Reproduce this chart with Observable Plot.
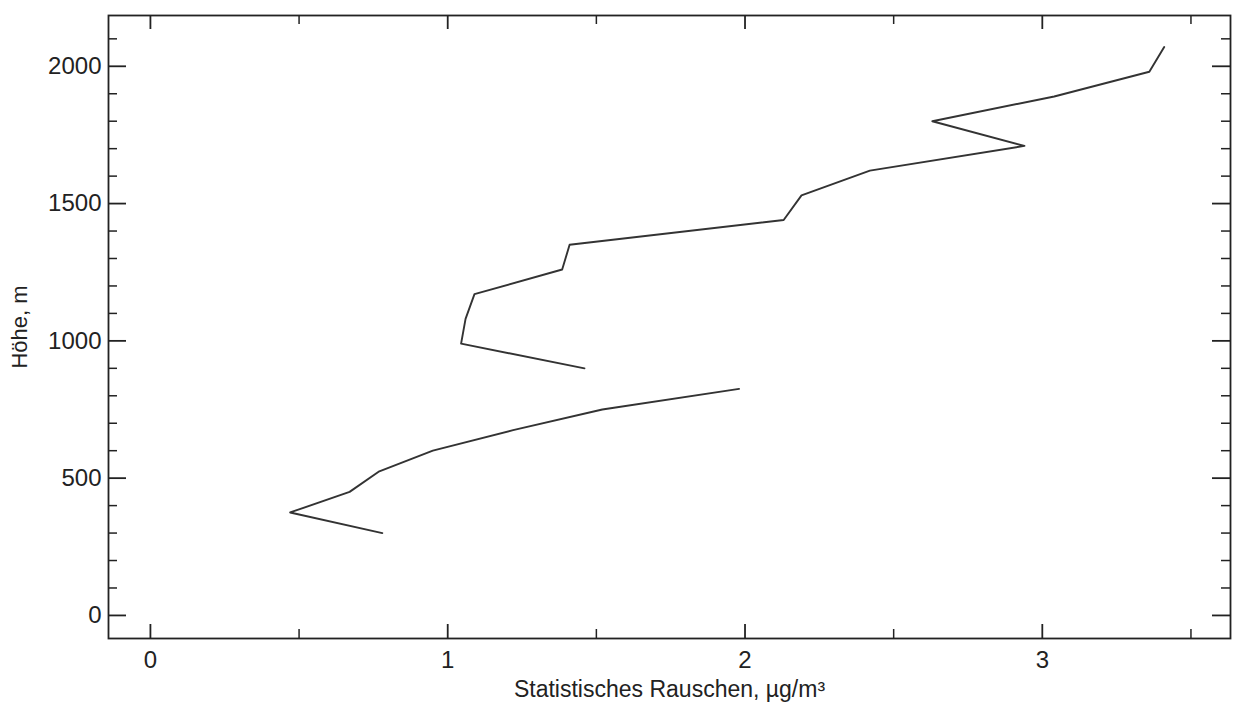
<!DOCTYPE html>
<html><head><meta charset="utf-8">
<script src="https://cdn.jsdelivr.net/npm/d3@7"></script>
<script src="https://cdn.jsdelivr.net/npm/@observablehq/plot@0.6"></script>
<style>body{margin:0;background:#fff} svg{display:block}</style>
</head><body><div id="chart"></div>
<script>
// lower profile segment
const lowerNoise  = [0.78, 0.47, 0.67, 0.77, 0.95, 1.22, 1.52, 1.98];
const lowerHeight = [300, 375, 450, 525, 600, 675, 750, 825];
// upper profile segment
const upperNoise  = [1.46, 1.045, 1.06, 1.09, 1.385, 1.41, 2.13, 2.19, 2.42, 2.94, 2.63, 3.04, 3.36, 3.41];
const upperHeight = [900, 990, 1080, 1170, 1260, 1350, 1440, 1530, 1620, 1710, 1800, 1890, 1980, 2070];
// ticks
const xMajor = [0, 1, 2, 3];
const xMinor = [0.5, 1.5, 2.5, 3.5];
const yMajor = [0, 500, 1000, 1500, 2000];
const yMinor = [100, 200, 300, 400, 600, 700, 800, 900, 1100, 1200, 1300, 1400, 1600, 1700, 1800, 1900, 2100];

const W = 1239, H = 702, mL = 108, mR = 9, mT = 15, mB = 64;
const pw = W - mL - mR, ph = H - mT - mB;
const lower = lowerNoise.map((x, i) => ({x, y: lowerHeight[i]}));
const upper = upperNoise.map((x, i) => ({x, y: upperHeight[i]}));
const ink = "#222";
const fmt = d3.format("d");

const chart = Plot.plot({
  width: W, height: H,
  marginLeft: mL, marginRight: mR, marginTop: mT, marginBottom: mB,
  style: {fontFamily: "'Liberation Sans', Arial, sans-serif", fontSize: "22px", color: ink, background: "#fff"},
  x: {domain: [-0.141, 3.633]},
  y: {domain: [-84, 2185]},
  marks: [
    // tick labels
    Plot.text(xMajor, {x: d => d, text: fmt, frameAnchor: "bottom", lineAnchor: "top", dy: 12, fontSize: 24, fill: ink}),
    Plot.text(yMajor, {y: d => d, text: fmt, frameAnchor: "left", textAnchor: "end", dx: -7, fontSize: 24, fill: ink}),
    // axis titles
    Plot.axisX({ticks: [], anchor: "bottom", tickSize: 0, fontSize: 23,
      label: "Statistisches Rauschen, µg/m³", labelAnchor: "center", labelArrow: "none", labelOffset: 58}),
    Plot.axisY({ticks: [], anchor: "left", tickSize: 0, fontSize: 22,
      label: "Höhe, m", labelAnchor: "center", labelArrow: "none", labelOffset: 97}),
    // inward ticks: bottom / top
    Plot.tickX(xMajor, {x: d => d, insetTop: ph - 14, stroke: ink, strokeWidth: 1.8}),
    Plot.tickX(xMinor, {x: d => d, insetTop: ph - 9, stroke: ink, strokeWidth: 1.5}),
    Plot.tickX(xMajor, {x: d => d, insetBottom: ph - 14, stroke: ink, strokeWidth: 1.8}),
    Plot.tickX(xMinor, {x: d => d, insetBottom: ph - 9, stroke: ink, strokeWidth: 1.5}),
    // inward ticks: left / right
    Plot.tickY(yMajor, {y: d => d, insetRight: pw - 18, stroke: ink, strokeWidth: 1.8}),
    Plot.tickY(yMinor, {y: d => d, insetRight: pw - 9, stroke: ink, strokeWidth: 1.5}),
    Plot.tickY(yMajor, {y: d => d, insetLeft: pw - 18, stroke: ink, strokeWidth: 1.8}),
    Plot.tickY(yMinor, {y: d => d, insetLeft: pw - 9, stroke: ink, strokeWidth: 1.5}),
    Plot.frame({stroke: ink, strokeWidth: 1.8}),
    Plot.line(lower, {x: "x", y: "y", stroke: "#333", strokeWidth: 1.9}),
    Plot.line(upper, {x: "x", y: "y", stroke: "#333", strokeWidth: 1.9})
  ]
});
document.getElementById("chart").append(chart);
</script>
</body></html>
